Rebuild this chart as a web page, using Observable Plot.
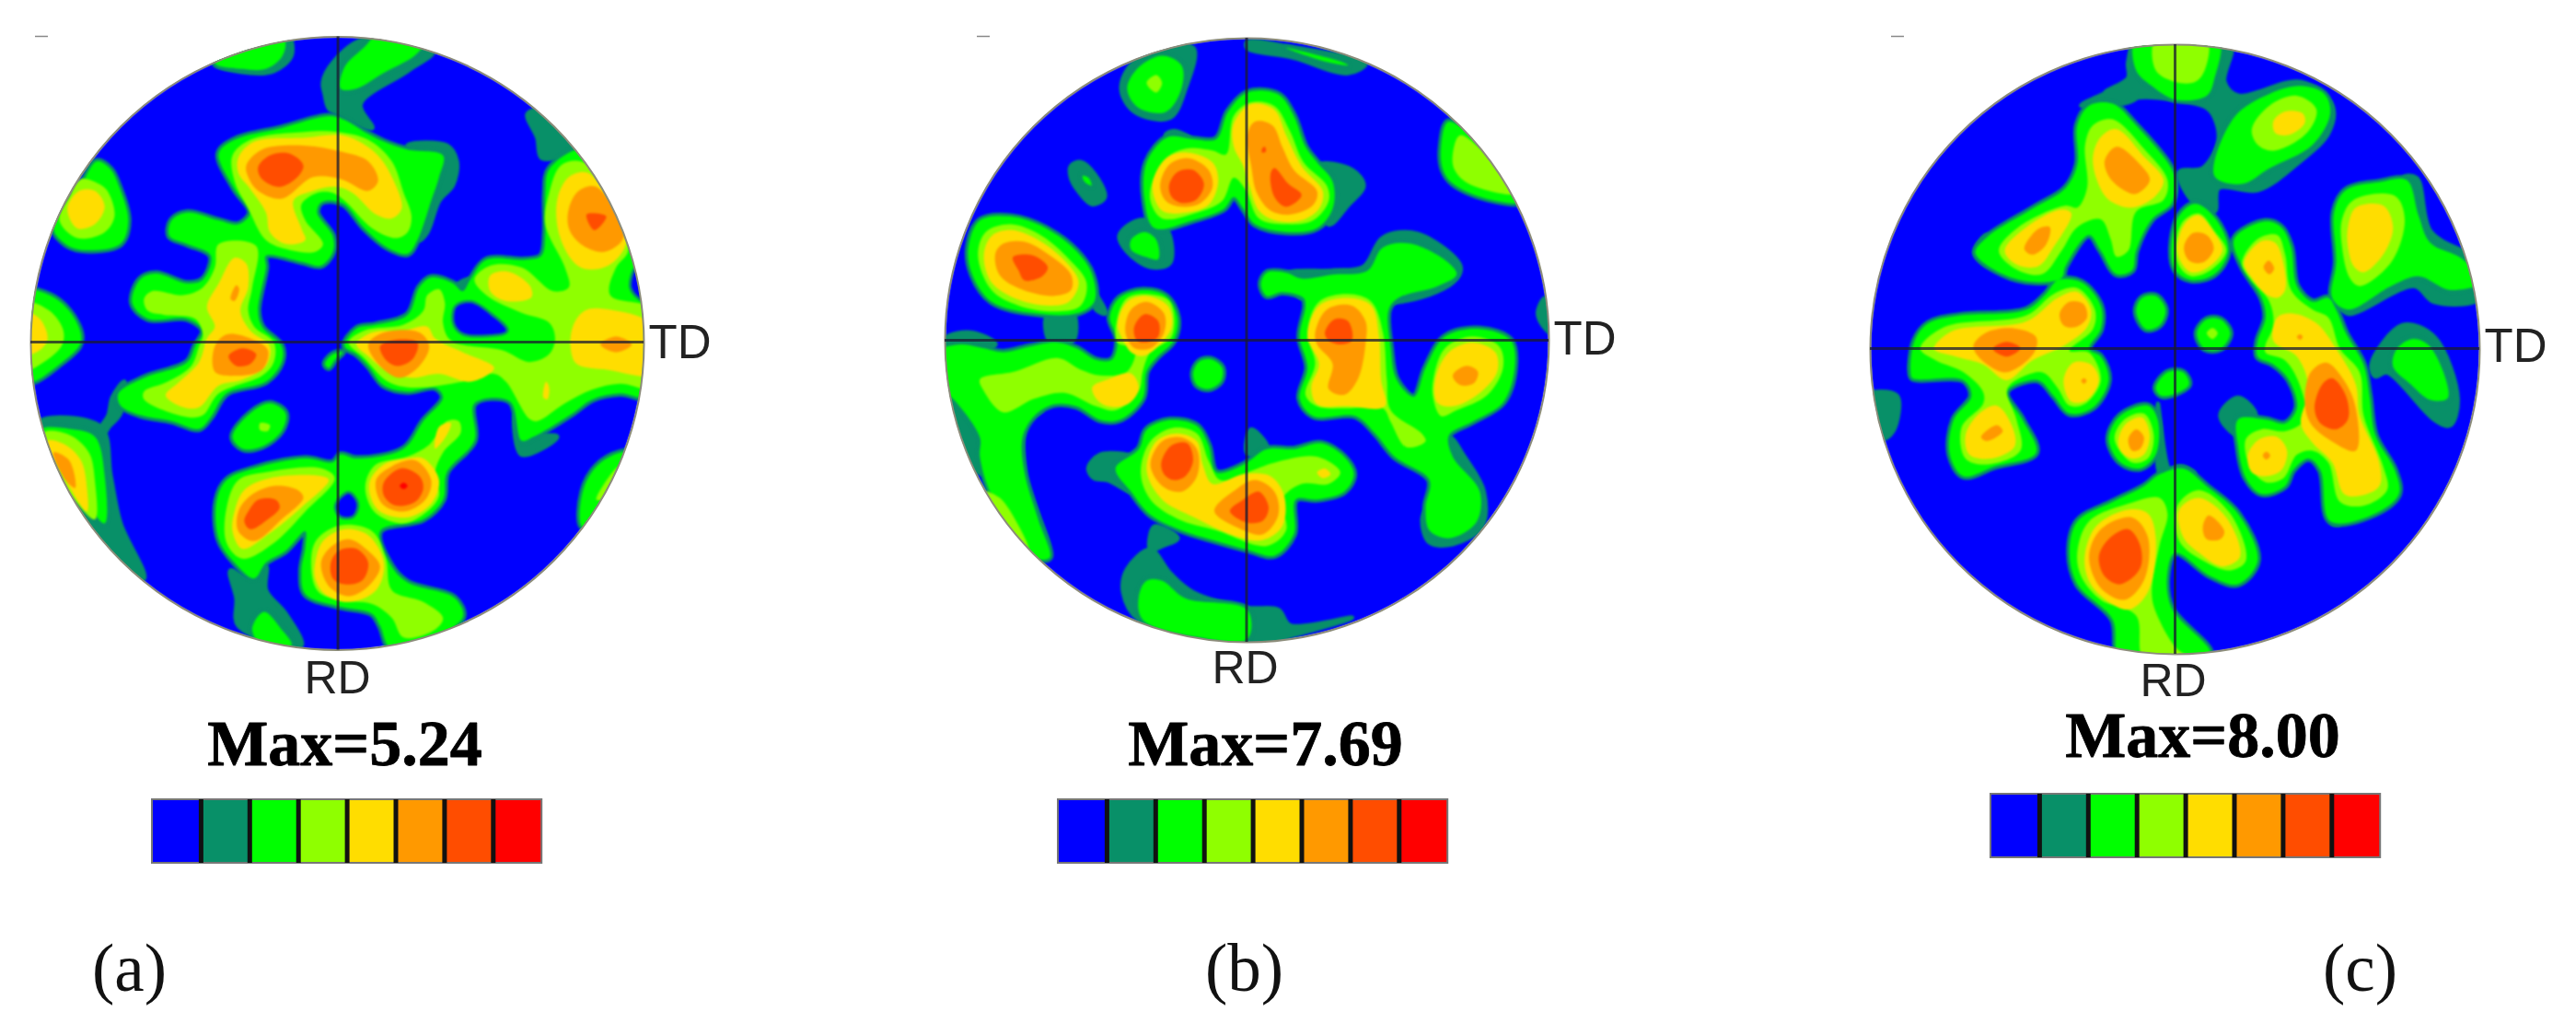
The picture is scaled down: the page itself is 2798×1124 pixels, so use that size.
<!DOCTYPE html>
<html><head><meta charset="utf-8">
<style>html,body{margin:0;padding:0;background:#fff}svg{display:block}</style>
<script src="https://cdn.jsdelivr.net/npm/d3@7"></script>
<script src="https://cdn.jsdelivr.net/npm/@observablehq/plot@0.6"></script>
</head><body><div id="chart"></div>
<script>
const levels=["c0","c1","c2","c3","c4","c5","c6","c7"];
const levelColors=["#0000ff","#089068","#00ff00","#8fff00","#ffdd00","#ff9900","#ff4d00","#ff0000"];
const maxLabels=["Max=5.24","Max=7.69","Max=8.00"];
const caps=["(a)","(b)","(c)"];

// Panel (a) contour outlines
const aDark=[
[[745,120],[770,70],[850,10],[1025,40],[960,90],[840,175],[870,235],[790,200],[760,185],[750,150]],
[[960,280],[1060,280],[1085,320],[1075,380],[1040,420],[1010,500],[990,520],[1000,440],[1020,380],[1040,330]],
[[1265,200],[1300,190],[1380,290],[1340,310],[1300,310],[1290,260]],
[[20,985],[180,995],[205,1120],[230,1240],[290,1380],[260,1380],[150,1260],[50,1100]],
[[180,1000],[200,965],[210,920],[240,880],[230,960],[200,995],[190,1010]],
[[510,1360],[560,1385],[600,1350],[600,1410],[650,1470],[690,1550],[530,1500],[525,1430]],
[[1080,640],[1120,620],[1120,660],[1090,680]],
[[1235,960],[1250,1065],[1340,1020],[1280,1010]],
[[470,70],[650,-10],[665,50],[620,90],[560,95]]
];
const aGreen=[
[[470,70],[540,85],[600,85],[640,55],[650,20],[640,-10],[560,-10],[490,30]],
[[790,135],[830,135],[900,95],[980,50],[1000,20],[940,-10],[880,0],[850,30],[800,80]],
[[480,300],[520,265],[640,235],[760,205],[800,215],[850,245],[900,270],[960,290],[1050,305],[1040,360],[1020,420],[985,520],[960,555],[910,540],[850,490],[800,430],[770,420],[740,425],[730,450],[770,510],[770,550],[740,585],[690,575],[600,560],[600,590],[580,700],[590,740],[640,790],[640,830],[600,880],[500,910],[460,970],[430,1000],[360,980],[280,965],[230,940],[225,910],[290,870],[400,830],[420,790],[440,750],[400,720],[300,720],[260,680],[280,620],[320,605],[400,630],[440,620],[460,560],[400,530],[355,510],[360,470],[400,450],[480,470],[530,480],[560,450],[520,390]],
[[60,490],[130,380],[170,320],[205,340],[225,380],[250,470],[230,530],[130,545],[90,530]],
[[-20,650],[50,660],[100,700],[130,760],[125,790],[70,840],[10,880],[-20,880]],
[[30,1000],[100,1000],[165,1020],[190,1120],[190,1240],[150,1200],[80,1130],[20,1030]],
[[515,1020],[560,960],[610,935],[650,960],[640,1005],[590,1045],[540,1050]],
[[750,835],[770,810],[795,805],[775,825],[760,845]],
[[800,790],[830,745],[880,735],[960,710],[990,640],[1020,615],[1075,630],[1100,650],[1120,620],[1160,570],[1260,570],[1300,560],[1310,500],[1310,400],[1320,340],[1400,290],[1450,340],[1510,440],[1590,640],[1590,920],[1500,910],[1430,925],[1380,960],[1280,1020],[1250,1030],[1220,930],[1130,935],[1130,1030],[1060,1110],[1050,1180],[1000,1230],[890,1260],[920,1350],[960,1390],[1080,1430],[1100,1480],[920,1560],[890,1500],[870,1470],[780,1450],[700,1420],[690,1360],[700,1300],[700,1260],[650,1310],[600,1340],[570,1380],[520,1340],[480,1280],[475,1180],[500,1130],[570,1100],[700,1075],[770,1085],[790,1065],[830,1075],[950,1050],[1000,980],[1050,920],[1030,895],[960,905],[900,890],[860,840],[830,810]],
[[565,1510],[595,1465],[640,1510],[665,1550],[600,1560]],
[[1405,1250],[1405,1160],[1440,1095],[1500,1060],[1560,1060],[1500,1200]]
];
const aHoles=[
[[780,1195],[810,1165],[830,1190],[820,1220],[790,1220]],
[[1085,690],[1120,680],[1170,710],[1210,750],[1160,760],[1100,755],[1080,730]],
[[1530,640],[1545,590],[1580,650],[1560,670]]
];
const aLime=[
[[515,305],[560,265],[700,245],[780,245],[860,265],[920,320],[950,400],[970,460],[960,500],[930,515],[870,490],[800,420],[770,400],[730,400],[690,430],[700,470],[745,530],[725,550],[660,545],[600,520],[555,440],[520,370]],
[[480,530],[575,535],[565,640],[555,700],[570,740],[620,780],[620,830],[590,865],[480,910],[440,965],[400,970],[290,925],[290,905],[350,880],[410,840],[430,790],[440,760],[420,720],[340,710],[300,700],[290,670],[310,650],[390,660],[440,640],[470,590]],
[[75,470],[100,410],[130,365],[180,380],[200,400],[215,460],[190,500],[120,515]],
[[-10,680],[50,700],[85,750],[80,790],[20,840],[-10,850]],
[[35,1010],[100,1015],[150,1060],[165,1130],[165,1230],[60,1100]],
[[585,985],[610,990],[605,1005],[585,1003]],
[[1130,620],[1170,585],[1250,590],[1330,650],[1370,640],[1360,590],[1310,480],[1320,400],[1350,330],[1400,320],[1450,360],[1510,480],[1520,550],[1490,590],[1475,660],[1590,700],[1590,895],[1500,885],[1430,900],[1360,935],[1290,980],[1270,975],[1210,880],[1180,860],[1100,880],[970,895],[910,880],[850,820],[810,780],[850,750],[950,735],[1000,700],[1010,660],[1040,645],[1055,680],[1050,730],[1070,775],[1200,800],[1270,830],[1320,810],[1335,770],[1320,730],[1250,705],[1160,660]],
[[500,1200],[530,1130],[600,1110],[740,1100],[775,1125],[700,1210],[620,1290],[540,1330],[500,1290]],
[[855,1130],[880,1090],[960,1070],[1015,1040],[1060,980],[1090,980],[1095,1010],[1050,1060],[1030,1110],[1040,1170],[1010,1210],[950,1240],[880,1215],[855,1170]],
[[715,1330],[730,1280],[790,1245],[870,1260],[905,1330],[920,1410],[1000,1440],[1050,1480],[1030,1510],[950,1530],[920,1480],[870,1445],[780,1435],[730,1410]],
[[1440,1180],[1490,1100],[1510,1090],[1470,1170]]
];
const aYellow=[
[[530,310],[570,270],[700,260],[800,255],[880,300],[925,370],[945,440],[920,465],[880,455],[820,400],[780,385],[720,395],[670,420],[690,490],[700,520],[650,530],[610,500],[600,450],[560,390],[530,350]],
[[520,565],[550,580],[555,640],[535,700],[560,750],[610,790],[600,840],[540,875],[480,890],[430,945],[390,945],[345,915],[380,880],[430,830],[450,770],[470,740],[450,690],[480,630]],
[[95,440],[125,395],[165,395],[190,435],[165,480],[120,490]],
[[-10,705],[25,720],[45,770],[25,800],[-10,810]],
[[45,1030],[90,1040],[130,1080],[145,1150],[145,1210],[90,1130]],
[[1170,610],[1215,600],[1270,635],[1275,665],[1210,675],[1170,650]],
[[1340,420],[1370,360],[1420,350],[1500,480],[1515,530],[1470,585],[1400,590],[1350,520]],
[[1380,740],[1410,700],[1460,695],[1590,740],[1590,860],[1470,850],[1390,835],[1375,800]],
[[830,785],[870,755],[950,750],[1010,740],[1030,770],[1100,805],[1180,845],[1120,880],[1040,860],[970,870],[910,855],[860,815]],
[[1305,920],[1312,880],[1320,895],[1315,925]],
[[520,1210],[545,1155],[610,1125],[740,1120],[760,1130],[690,1200],[610,1265],[540,1305],[515,1260]],
[[865,1130],[900,1090],[960,1075],[1000,1075],[1040,1130],[1020,1190],[960,1225],[890,1210],[865,1170]],
[[1040,995],[1070,985],[1060,1015],[1030,1050]],
[[725,1340],[745,1285],[800,1255],[860,1270],[900,1340],[880,1410],[810,1440],[750,1420],[725,1380]]
];
const aOrange=[
[[550,330],[590,290],[700,280],[790,295],[860,320],[885,370],[860,395],[790,365],[720,360],[640,415],[580,395],[555,360]],
[[470,790],[500,760],[560,770],[605,800],[590,850],[520,865],[470,855]],
[[525,635],[532,645],[520,675],[510,670]],
[[60,1060],[100,1080],[115,1150],[90,1130]],
[[1370,440],[1395,395],[1440,385],[1510,510],[1460,550],[1400,530],[1370,490]],
[[860,785],[900,755],[990,755],[1015,790],[990,840],[940,870],[890,840]],
[[1450,785],[1490,765],[1530,785],[1490,805]],
[[530,1210],[560,1170],[620,1145],[680,1155],[695,1175],[640,1230],[570,1285],[530,1260]],
[[880,1130],[920,1095],[980,1080],[1020,1130],[1005,1180],[950,1210],[895,1190]],
[[740,1340],[765,1300],[810,1280],[860,1310],[890,1350],[860,1400],[810,1425],[760,1400]]
];
const aRedOrange=[
[[580,335],[610,305],[660,300],[695,330],[680,360],[635,385],[590,365]],
[[505,815],[540,795],[575,810],[560,835],[525,840]],
[[890,790],[920,775],[985,780],[975,820],[935,840],[905,825]],
[[1415,455],[1465,460],[1435,495]],
[[555,1210],[580,1180],[625,1180],[635,1200],[605,1230],[560,1255],[545,1235]],
[[900,1135],[945,1100],[990,1120],[1000,1150],[980,1185],[930,1195],[900,1170]],
[[765,1340],[785,1310],[830,1305],[860,1340],[845,1385],[800,1395],[770,1380]]
];
const aRed=[[[940,1145],[950,1137],[960,1145],[950,1153]]];

// Panel (b)
const bDark=[
[[455,130],[490,60],[640,25],[620,130],[580,205],[490,190]],
[[780,10],[900,25],[1085,65],[1040,90],[900,50],[780,25]],
[[325,330],[350,320],[385,350],[412,410],[380,428],[345,395],[325,360]],
[[960,330],[1050,340],[1080,380],[1040,430],[990,480]],
[[570,250],[590,240],[640,265],[590,280]],
[[450,510],[500,470],[570,490],[580,580],[530,590],[470,550]],
[[265,710],[330,710],[330,780],[270,780]],
[[380,650],[415,710],[390,700]],
[[0,775],[70,760],[130,790],[70,810],[0,810]],
[[0,900],[40,960],[95,1030],[115,1120],[85,1120],[30,1020]],
[[170,1080],[200,1000],[250,960],[210,990],[205,1120],[265,1320],[240,1320],[180,1140]],
[[370,1110],[400,1075],[480,1080],[440,1110],[480,1170],[420,1140],[385,1135]],
[[780,1070],[790,1010],[830,1050],[830,1070]],
[[540,1260],[600,1290],[560,1310],[530,1320]],
[[460,1430],[470,1370],[530,1320],[580,1380],[640,1430],[780,1470],[860,1475],[890,1515],[1050,1495],[900,1540],[780,1570],[500,1500]],
[[880,610],[1000,600],[1080,590],[1130,515],[1220,505],[1330,590],[1310,630],[1170,680],[950,660],[920,670]],
[[1300,1030],[1340,1080],[1390,1170],[1385,1260],[1310,1305],[1250,1300],[1232,1240],[1260,1180]],
[[1530,710],[1550,670],[1580,700],[1580,770],[1550,750]]
];
const bGreen=[
[[470,130],[500,75],[560,45],[610,70],[610,130],[570,190],[500,180]],
[[880,25],[1020,60],[1040,70],[980,60]],
[[1280,280],[1300,215],[1500,420],[1400,415],[1310,375],[1285,340]],
[[355,355],[370,360],[378,380],[360,370]],
[[520,320],[575,255],[640,260],[700,260],[730,190],[780,140],[860,145],[900,200],[930,280],[960,320],[1000,370],[1000,440],[960,490],[880,500],[800,480],[770,440],[745,410],[720,440],[640,470],[540,490],[515,420]],
[[480,520],[515,500],[545,520],[550,570],[520,565],[480,545]],
[[60,540],[90,470],[170,460],[260,490],[340,550],[380,610],[385,680],[340,710],[230,710],[120,680],[70,610]],
[[-20,810],[40,790],[100,800],[150,810],[220,795],[290,785],[340,800],[390,830],[430,830],[445,780],[425,720],[450,670],[510,650],[570,665],[600,720],[590,780],[545,825],[520,860],[510,930],[450,985],[400,985],[340,950],[280,945],[230,975],[200,1030],[205,1120],[240,1240],[270,1340],[230,1340],[120,1180],[90,1080],[90,1030],[30,940],[-20,890]],
[[640,865],[655,835],[685,828],[715,850],[712,885],[680,905],[650,895]],
[[440,1110],[500,1060],[520,1010],[580,985],[650,1000],[680,1050],[700,1120],[770,1100],[830,1060],[900,1060],[970,1045],[1030,1080],[1055,1125],[1030,1170],[960,1190],[905,1190],[900,1280],[850,1335],[780,1320],[690,1295],[610,1270],[530,1230],[480,1170]],
[[500,1440],[520,1400],[560,1400],[620,1445],[780,1475],[780,1550],[650,1545],[510,1500]],
[[815,635],[830,605],[880,605],[920,620],[1000,610],[1090,600],[1130,540],[1200,530],[1300,580],[1320,610],[1270,640],[1170,670],[1145,700],[1150,800],[1165,880],[1210,925],[1240,850],[1290,770],[1380,750],[1460,780],[1470,850],[1440,940],[1360,990],[1300,1025],[1310,1080],[1380,1170],[1370,1250],[1300,1290],[1250,1270],[1240,1210],[1250,1140],[1160,1080],[1110,1020],[1060,975],[950,975],[915,930],[935,850],[915,770],[930,690],[925,670],[870,655],[830,665]]
];
const bHoles=[];
const bLime=[
[[520,115],[545,95],[560,115],[545,140]],
[[1310,300],[1330,250],[1470,400],[1350,375],[1315,340]],
[[535,370],[570,310],[620,285],[690,290],[725,300],[745,200],[790,165],[850,175],[890,240],[925,320],[985,380],[990,420],[950,470],[880,480],[810,465],[775,390],[745,360],[715,420],[650,450],[560,465],[530,420]],
[[85,560],[105,500],[170,480],[250,510],[320,570],[365,630],[350,690],[290,705],[190,690],[120,650]],
[[90,880],[180,860],[290,825],[350,855],[400,870],[470,860],[490,800],[445,785],[445,720],[470,670],[520,660],[580,680],[585,770],[530,810],[510,860],[500,910],[440,960],[390,950],[310,915],[230,930],[150,965],[100,910]],
[[100,1170],[140,1185],[180,1240],[215,1320],[160,1290]],
[[505,1120],[530,1040],[590,1005],[650,1020],[680,1090],[710,1140],[780,1120],[850,1095],[960,1080],[1020,1120],[990,1150],[920,1150],[870,1190],[880,1270],[830,1310],[700,1270],[600,1240],[530,1190]],
[[935,760],[965,680],[1040,660],[1100,680],[1130,760],[1140,880],[1150,960],[1230,1020],[1240,1040],[1190,1055],[1150,990],[1130,955],[1040,955],[960,950],[930,920],[955,840]],
[[1260,880],[1290,800],[1360,770],[1430,795],[1440,850],[1400,920],[1320,960],[1280,975],[1260,930]]
];
const bYellow=[
[[535,380],[570,310],[625,295],[690,320],[705,370],[680,430],[620,450],[560,445]],
[[745,220],[790,170],[850,185],[880,250],[920,330],[975,395],[965,440],[920,470],[850,470],[810,445],[785,380],[770,330],[745,280]],
[[100,560],[120,510],[170,495],[240,520],[310,575],[345,630],[320,680],[270,690],[190,675],[120,630]],
[[445,740],[470,680],[520,665],[575,690],[585,745],[550,795],[510,820],[480,810],[460,780]],
[[380,900],[420,880],[480,865],[500,905],[470,945],[420,950],[390,930]],
[[520,1115],[545,1040],[600,1020],[650,1040],[665,1100],[690,1150],[770,1125],[840,1130],[875,1180],[870,1260],[820,1295],[750,1285],[640,1235],[560,1190]],
[[960,1120],[980,1110],[995,1125],[975,1135]],
[[935,770],[965,690],[1040,670],[1100,690],[1120,770],[1125,880],[1135,950],[1040,950],[960,945],[945,900],[965,840]],
[[1265,880],[1300,810],[1360,785],[1420,810],[1425,860],[1380,915],[1310,950],[1270,940]]
];
const bOrange=[
[[555,380],[580,325],[630,310],[680,340],[690,385],[660,425],[610,435],[570,420]],
[[780,250],[800,215],[845,225],[870,280],[900,340],[960,395],[950,430],[890,455],[840,445],[805,400],[790,330]],
[[130,555],[150,530],[205,525],[270,560],[325,610],[325,650],[280,665],[190,645],[140,610]],
[[465,745],[480,700],[520,680],[565,710],[565,760],[530,800],[490,800],[470,775]],
[[530,1100],[560,1040],[610,1030],[650,1060],[650,1130],[610,1170],[560,1155]],
[[695,1220],[750,1165],[800,1140],[850,1170],[860,1230],[820,1280],[760,1265]],
[[955,760],[985,700],[1050,690],[1085,730],[1085,790],[1065,880],[1030,920],[990,905],[1000,840],[960,790]],
[[1310,870],[1345,845],[1375,860],[1365,890],[1330,895]]
];
const bRedOrange=[
[[578,380],[600,345],[640,340],[668,375],[650,415],[610,425],[585,410]],
[[840,350],[850,335],[885,375],[920,405],[880,435],[850,410]],
[[818,285],[825,280],[828,292],[818,295]],
[[175,565],[225,560],[265,590],[250,615],[205,625],[190,600]],
[[488,745],[515,712],[550,730],[550,770],[520,785],[495,780]],
[[558,1095],[585,1050],[625,1045],[640,1090],[620,1130],[590,1140],[565,1125]],
[[735,1220],[770,1190],[810,1170],[835,1210],[820,1245],[780,1250]],
[[980,760],[1005,725],[1040,730],[1050,780],[1020,790],[990,780]]
];
const bRed=[];

// Panel (c)
const cDark=[
[[660,50],[680,0],[920,0],[905,100],[940,135],[1100,100],[1180,160],[1170,230],[1100,300],[990,375],[890,370],[880,430],[830,410],[790,330],[850,320],[890,250],[880,190],[860,165],[780,145],[680,140],[660,150],[600,130],[660,90]],
[[540,160],[600,130],[650,110],[680,140],[620,160]],
[[895,950],[940,905],[985,950],[940,1000]],
[[1160,1090],[1180,1225],[1200,1225],[1170,1180]],
[[1360,345],[1395,345],[1430,480],[1510,530],[1560,550],[1560,650],[1440,660],[1390,620],[1220,690],[1200,660],[1300,610],[1400,590]],
[[1280,820],[1360,720],[1440,750],[1500,910],[1480,975],[1440,960],[1320,840],[1290,850]],
[[-10,900],[70,900],[60,990],[30,1010]],
[[110,850],[105,820],[125,760],[130,850]],
[[735,920],[760,1080],[780,1110],[745,1110]],
[[750,1110],[790,1080],[830,1100],[800,1120]],
[[270,535],[300,490],[330,520],[310,570]]
];
const cGreen=[
[[680,-10],[890,-10],[880,90],[860,135],[780,145],[720,110],[680,70]],
[[880,340],[930,190],[1020,130],[1100,110],[1160,130],[1175,180],[1130,260],[1020,320],[950,360]],
[[270,535],[300,495],[420,420],[500,370],[530,310],[530,210],[560,160],[620,155],[680,210],[770,320],[780,360],[770,410],[720,450],[680,530],[670,580],[630,590],[590,530],[560,490],[500,570],[490,600],[420,610],[340,590]],
[[770,520],[790,440],[830,410],[880,445],[915,530],[880,590],[820,605],[780,580]],
[[930,500],[1010,455],[1050,470],[1075,520],[1090,620],[1130,660],[1170,650],[1190,680],[1215,740],[1260,820],[1275,900],[1290,1000],[1340,1090],[1350,1150],[1290,1200],[1175,1220],[1150,1090],[1120,1060],[1080,1090],[1060,1130],[1000,1150],[960,1110],[940,1030],[940,960],[1010,960],[1060,970],[1090,930],[1070,860],[1030,820],[990,800],[990,760],[1010,700],[1000,650],[950,570]],
[[1185,430],[1215,375],[1300,355],[1370,350],[1400,440],[1430,510],[1510,550],[1560,610],[1480,630],[1400,595],[1330,620],[1220,680],[1180,650],[1190,560]],
[[1335,825],[1345,780],[1385,755],[1430,775],[1475,905],[1430,910],[1380,870]],
[[105,840],[115,760],[150,715],[230,695],[400,680],[450,640],[480,605],[540,610],[590,670],[590,730],[560,780],[590,800],[610,860],[570,930],[510,945],[470,900],[430,860],[350,890],[390,960],[425,1045],[320,1080],[240,1105],[205,1050],[215,960],[260,900],[240,860],[110,855]],
[[680,685],[695,650],[730,645],[755,680],[740,720],[705,730]],
[[835,740],[860,705],[895,705],[920,740],[895,780],[855,780]],
[[730,880],[760,840],[800,840],[815,870],[790,890],[745,900]],
[[610,1010],[640,950],[710,925],[735,960],[730,1050],[690,1085],[640,1070]],
[[510,1300],[530,1220],[620,1170],[700,1130],[740,1100],[800,1085],[860,1130],[940,1200],[990,1320],[940,1380],[870,1360],[780,1300],[760,1350],[770,1440],[870,1560],[640,1570],[620,1470],[530,1380]]
];
const cHoles=[];
const cLime=[
[[730,-10],[860,-10],[855,70],[830,100],[780,100],[730,70]],
[[975,220],[1020,160],[1090,135],[1140,170],[1115,230],[1030,275],[990,260]],
[[330,530],[380,470],[500,415],[530,420],[555,370],[550,260],[570,210],[620,195],[700,270],[760,350],[750,400],[680,430],[660,530],[630,545],[615,500],[590,450],[530,470],[490,530],[440,590],[370,575]],
[[780,520],[800,455],[840,435],[880,480],[910,530],[870,580],[820,595],[790,570]],
[[950,560],[990,500],[1040,490],[1060,540],[1075,630],[1130,680],[1170,700],[1200,780],[1250,840],[1260,950],[1310,1080],[1320,1140],[1260,1180],[1200,1170],[1170,1070],[1130,1040],[1090,1050],[1055,1110],[1010,1120],[970,1080],[960,1010],[1000,985],[1060,990],[1110,960],[1100,880],[1060,810],[1010,790],[1010,770],[1030,720],[1020,660],[970,600]],
[[1205,450],[1235,400],[1340,390],[1365,450],[1330,560],[1250,620],[1225,600],[1205,520]],
[[130,780],[190,725],[400,695],[470,640],[530,625],[575,680],[570,730],[510,785],[560,790],[590,860],[550,920],[510,925],[480,880],[440,840],[360,870],[350,890],[375,960],[385,1040],[300,1075],[245,1060],[235,980],[290,920],[290,890],[240,840],[170,810]],
[[860,740],[875,727],[888,740],[875,755]],
[[625,1010],[650,960],[700,945],[725,1000],[710,1060],[670,1070]],
[[530,1300],[560,1220],[660,1175],[740,1160],[760,1200],[740,1280],[720,1400],[730,1450],[790,1550],[840,1570],[700,1570],[680,1460],[590,1420],[540,1360]],
[[785,1180],[840,1140],[920,1200],[960,1320],[920,1345],[850,1320],[790,1270]]
];
const cYellow=[
[[1030,200],[1060,175],[1105,180],[1110,205],[1070,235],[1035,230]],
[[345,530],[400,470],[490,425],[515,435],[470,520],[430,570],[375,565]],
[[570,290],[590,240],[630,220],[700,290],[750,350],[730,390],[670,420],[610,400],[580,350]],
[[785,520],[805,460],[840,440],[880,485],[900,530],[860,575],[820,585],[795,560]],
[[955,560],[1000,505],[1035,510],[1055,560],[1060,630],[1040,650],[1010,640],[975,600]],
[[1030,760],[1040,700],[1080,690],[1140,715],[1190,780],[1240,870],[1250,950],[1300,1070],[1300,1130],[1250,1155],[1210,1150],[1180,1070],[1130,1020],[1100,970],[1120,880],[1090,800]],
[[965,1050],[995,1010],[1040,1005],[1065,1040],[1050,1090],[1010,1105],[975,1095]],
[[1220,470],[1240,420],[1310,415],[1335,470],[1310,540],[1260,585],[1235,570],[1220,520]],
[[165,780],[210,735],[400,710],[480,650],[530,635],[565,680],[555,725],[500,770],[415,810],[350,860],[290,820],[220,800]],
[[495,860],[520,815],[565,820],[585,860],[555,910],[515,915]],
[[245,1000],[280,945],[325,925],[365,980],[370,1030],[310,1060],[255,1050]],
[[635,1010],[655,970],[695,955],[715,1000],[700,1050],[670,1060],[640,1040]],
[[550,1300],[580,1230],[660,1190],[710,1200],[730,1260],[710,1400],[660,1445],[590,1410],[555,1360]],
[[790,1190],[840,1160],[910,1210],[945,1310],[900,1335],[840,1300],[800,1260]]
];
const cOrange=[
[[395,525],[430,475],[460,470],[450,515],[415,540]],
[[600,300],[630,265],[690,310],[715,350],[680,385],[640,370],[610,340]],
[[802,520],[825,485],[860,490],[878,525],[850,560],[815,555]],
[[1110,920],[1125,840],[1165,815],[1210,860],[1240,930],[1240,1040],[1170,1010],[1125,970]],
[[1005,572],[1018,555],[1032,575],[1020,590]],
[[1090,750],[1098,743],[1105,750],[1098,757]],
[[1003,1052],[1012,1042],[1022,1052],[1012,1062]],
[[265,775],[295,740],[370,728],[425,750],[420,790],[350,840],[300,820]],
[[485,690],[510,660],[545,665],[555,700],[525,725],[495,720]],
[[540,862],[547,855],[554,862],[547,869]],
[[285,1005],[325,975],[340,990],[300,1015]],
[[660,1010],[680,985],[700,1005],[690,1035],[670,1040]],
[[560,1310],[590,1240],[670,1210],[710,1260],[700,1370],[650,1420],[590,1390]],
[[850,1235],[865,1205],[905,1245],[895,1265],[860,1265]]
];
const cRedOrange=[
[[1135,930],[1155,870],[1180,855],[1215,900],[1220,960],[1190,985],[1150,970]],
[[315,780],[350,762],[385,778],[350,800]],
[[585,1310],[610,1265],[660,1240],[690,1280],[690,1340],[640,1380],[600,1360]]
];
const cRed=[];

// Figure layout of the three panels
const panels=[
 {name:"a",ox:32,oy:38,size:670,cx:366,cy:372.5,r:333,crossX:366.6,crossY:371,tdX:704,tdY:388,rdX:366,rdY:752,maxX:374,maxY:830,barX:165,barY:868,capX:140,capY:1075,dashX:38},
 {name:"b",ox:1026,oy:41,size:660,cx:1354,cy:369,r:328,crossX:1353.5,crossY:369,tdX:1687,tdY:384,rdX:1352,rdY:741,maxX:1374,maxY:830,barX:1149,barY:868,capX:1351,capY:1075,dashX:1061},
 {name:"c",ox:2030,oy:46,size:668,cx:2362,cy:379,r:331,crossX:2362,crossY:378,tdX:2698,tdY:392,rdX:2360,rdY:755,maxX:2392,maxY:821,barX:2162,barY:862,capX:2563,capY:1075,dashX:2054}
];
const contourSets=[
 {c1:aDark,c2:aGreen,holes:aHoles,c3:aLime,c4:aYellow,c5:aOrange,c6:aRedOrange,c7:aRed},
 {c1:bDark,c2:bGreen,holes:bHoles,c3:bLime,c4:bYellow,c5:bOrange,c6:bRedOrange,c7:bRed},
 {c1:cDark,c2:cGreen,holes:cHoles,c3:cLime,c4:cYellow,c5:cOrange,c6:cRedOrange,c7:cRed}
];
const cropUnits=1568, barCell=52.9, barHeight=69, discBlur=1.3;

let uid=0;
const rowsOf=(polys,level,p)=>polys.flatMap(poly=>{const id=uid++;const k=p.size/cropUnits;
  return poly.map(([u,v])=>({id,level,x:p.ox+u*k,y:p.oy+v*k}));});

const marks=[];
panels.forEach((p,i)=>{
  const s=contourSets[i], cls="disc-"+p.name, band=levelColors[1];
  const lineOpts={x:"x",y:"y",z:"id",curve:"catmull-rom-closed",className:cls};
  marks.push(Plot.dot([p],{x:"cx",y:"cy",r:p.r,fill:()=>"c0",className:cls}));
  marks.push(Plot.line(rowsOf(s.c1,"c1",p),{...lineOpts,fill:"level",stroke:band,strokeWidth:5,strokeLinejoin:"round"}));
  marks.push(Plot.line(rowsOf(s.c2,"c1",p),{...lineOpts,fill:"level",stroke:band,strokeWidth:7,strokeLinejoin:"round"}));
  marks.push(Plot.line(rowsOf(s.c2,"c2",p),{...lineOpts,fill:"level",stroke:null}));
  if(s.holes.length) marks.push(Plot.line(rowsOf(s.holes,"c0",p),{...lineOpts,fill:"level",stroke:band,strokeWidth:6,paintOrder:"stroke"}));
  const upper=["c3","c4","c5","c6","c7"].flatMap(l=>rowsOf(s[l],l,p));
  marks.push(Plot.line(upper,{...lineOpts,fill:"level",stroke:null}));
  marks.push(Plot.dot([p],{x:"cx",y:"cy",r:p.r,fill:null,stroke:"#8c8c7a",strokeWidth:2}));
  marks.push(Plot.ruleX([p],{x:"crossX",y1:d=>d.cy-d.r,y2:d=>d.cy+d.r,stroke:"#1a1a30",strokeOpacity:0.75,strokeWidth:3,className:"soft"}));
  marks.push(Plot.ruleY([p],{y:"crossY",x1:d=>d.cx-d.r,x2:d=>d.cx+d.r,stroke:"#1a1a30",strokeOpacity:0.75,strokeWidth:3,className:"soft"}));
  marks.push(Plot.ruleY([p],{y:()=>39,x1:"dashX",x2:d=>d.dashX+14,stroke:"#888",strokeWidth:1.5}));
  marks.push(Plot.text([p],{x:"tdX",y:"tdY",text:()=>"TD",textAnchor:"start",lineAnchor:"bottom",fontFamily:"Liberation Sans",fontSize:51,fill:"#222",className:"soft"}));
  marks.push(Plot.text([p],{x:"rdX",y:"rdY",text:()=>"RD",textAnchor:"middle",lineAnchor:"bottom",fontFamily:"Liberation Sans",fontSize:50,fill:"#222",className:"soft"}));
  marks.push(Plot.text([p],{x:"maxX",y:"maxY",text:()=>maxLabels[i],textAnchor:"middle",lineAnchor:"bottom",fontFamily:"Liberation Serif",fontWeight:"bold",fontSize:70,fill:"#000",stroke:"#000",strokeWidth:0.8,className:"soft"}));
  marks.push(Plot.text([p],{x:"capX",y:"capY",text:()=>caps[i],textAnchor:"middle",lineAnchor:"bottom",fontFamily:"Liberation Serif",fontSize:73,fill:"#111",className:"soft"}));
  const bar=levels.map((level,j)=>({level,x1:p.barX+j*barCell,x2:p.barX+(j+1)*barCell,y1:p.barY,y2:p.barY+barHeight}));
  marks.push(Plot.rect(bar,{x1:"x1",x2:"x2",y1:"y1",y2:"y2",fill:"level",stroke:"#777",strokeWidth:2,className:"soft"}));
  marks.push(Plot.ruleX(bar.slice(1),{x:"x1",y1:"y1",y2:"y2",stroke:"#111",strokeWidth:5,className:"soft"}));
});

const chart=Plot.plot({
  width:2798,height:1124,margin:0,
  x:{domain:[0,2798],range:[0,2798],axis:null},
  y:{domain:[0,1124],range:[0,1124],axis:null},
  color:{type:"ordinal",domain:levels,range:levelColors},
  style:{background:"#fff"},
  marks
});
const ns="http://www.w3.org/2000/svg";
const defs=document.createElementNS(ns,"defs");
panels.forEach(p=>{
  const c=document.createElementNS(ns,"clipPath");c.setAttribute("id","clip-"+p.name);
  const e=document.createElementNS(ns,"circle");
  e.setAttribute("cx",chart.scale("x").apply(p.cx));e.setAttribute("cy",chart.scale("y").apply(p.cy));e.setAttribute("r",p.r);
  c.appendChild(e);defs.appendChild(c);
});
chart.prepend(defs);
panels.forEach(p=>chart.querySelectorAll(".disc-"+p.name).forEach(g=>{
  const w=document.createElementNS(ns,"g");w.setAttribute("clip-path",`url(#clip-${p.name})`);
  g.parentNode.insertBefore(w,g);w.appendChild(g);g.style.filter=`blur(${discBlur}px)`;
}));
chart.querySelectorAll(".soft").forEach(g=>g.style.filter="blur(0.7px)");
document.getElementById("chart").appendChild(chart);
</script></body></html>
